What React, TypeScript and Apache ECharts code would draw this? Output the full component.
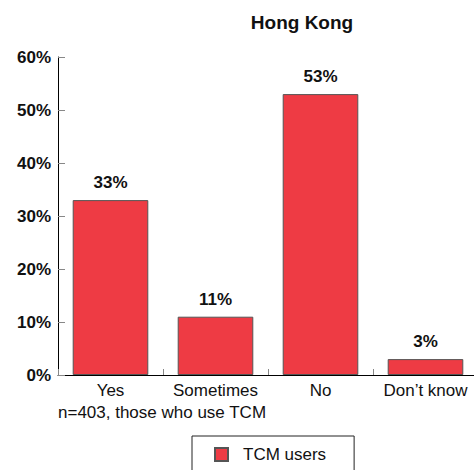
import React, { useEffect, useRef } from "react";
import * as echarts from "echarts";

const categories = ["Yes", "Sometimes", "No", "Don\u2019t know"];
const values = [33, 11, 53, 3];
const yTicks = [0, 10, 20, 30, 40, 50, 60];
const seriesName = "TCM users";
const title = "Hong Kong";
const note = "n=403, those who use TCM";

export default function App() {
  const ref = useRef<HTMLDivElement>(null);
  useEffect(() => {
    if (!ref.current) return;
    const chart = echarts.init(ref.current, null, { renderer: "svg" });
    const font = "Liberation Sans, Arial, sans-serif";
    chart.setOption({
      animation: false,
      backgroundColor: "#fff",
      textStyle: { fontFamily: font },
      title: {
        text: title,
        left: 297,
        top: 8,
        textAlign: "center",
        textStyle: { fontSize: 19, fontWeight: "bold", color: "#111", fontFamily: font },
      },
      grid: { left: 58, right: 0, top: 57, bottom: 95 },
      xAxis: {
        type: "category",
        data: categories,
        axisLine: { show: true, lineStyle: { color: "#000", width: 1 } },
        axisTick: { show: true, inside: true, length: 6, alignWithLabel: false, lineStyle: { color: "#888" } },
        axisLabel: { fontSize: 17, color: "#111", margin: 7, fontFamily: font, interval: 0, hideOverlap: false },
      },
      yAxis: {
        type: "value",
        min: 0,
        max: 60,
        interval: 10,
        splitLine: { show: false },
        axisLine: { show: true, lineStyle: { color: "#000", width: 1 } },
        axisTick: { show: true, inside: true, length: 7, lineStyle: { color: "#888" } },
        axisLabel: {
          fontSize: 17,
          fontWeight: "bold",
          color: "#111",
          margin: 7,
          fontFamily: font,
          formatter: (v: number) => (yTicks.includes(v) ? v + "%" : ""),
        },
      },
      legend: {
        data: [seriesName],
        left: 192,
        top: 436,
        padding: [10, 28, 12, 22],
        borderColor: "#222",
        borderWidth: 1,
        itemWidth: 13,
        itemHeight: 13,
        itemGap: 10,
        icon: "rect",
        textStyle: { fontSize: 17, color: "#111", fontFamily: font, padding: [0, 0, 0, 10] },
      },
      graphic: [
        {
          type: "text",
          left: 58,
          top: 404,
          style: { text: note, fontSize: 17, fill: "#111", fontFamily: font },
        },
      ],
      series: [
        {
          name: seriesName,
          type: "bar",
          data: values,
          barCategoryGap: "28%",
          itemStyle: { color: "#EE3B44", borderColor: "#555", borderWidth: 1 },
          label: {
            show: true,
            position: "top",
            distance: 9,
            formatter: "{c}%",
            fontSize: 17,
            fontWeight: "bold",
            color: "#111",
            fontFamily: font,
          },
        },
      ],
    });
    return () => chart.dispose();
  }, []);
  return (
    <div style={{ position: "fixed", left: 0, top: 0, width: 474, height: 470, overflow: "hidden", background: "#fff" }}>
      <div ref={ref} style={{ width: 478, height: 470 }} />
    </div>
  );
}
